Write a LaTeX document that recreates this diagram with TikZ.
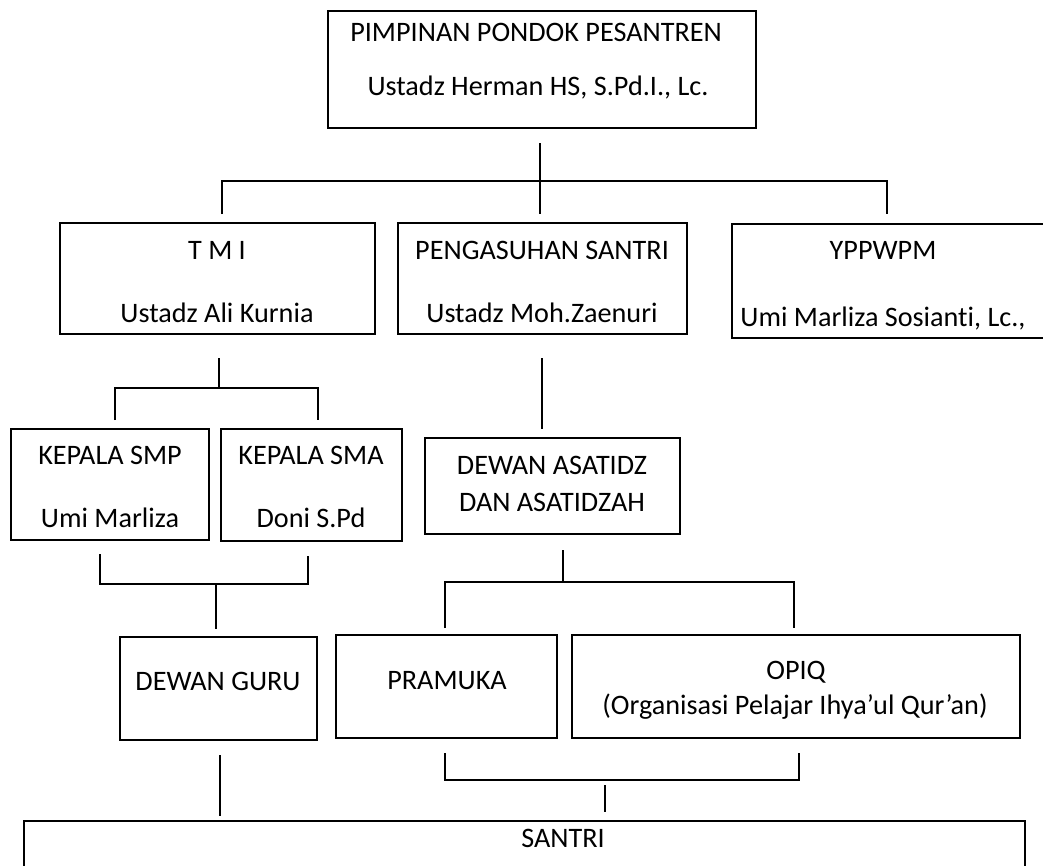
\documentclass[tikz,border=0pt]{standalone}
\usepackage{fontspec}
\setmainfont{Carlito}[Ligatures=NoCommon]

\begin{document}
\begin{tikzpicture}[x=1pt,y=-1pt,line width=1.2pt,
  kotak/.style={draw,line width=1.1pt,inner sep=0pt},
  teks/.style={inner sep=0pt,yshift=-4pt,text height=0.64em,text depth=0pt,font=\fontsize{28.2}{33}\selectfont}]
  \useasboundingbox (0,0) rectangle (1043,865);
  % kotak-kotak
  \node[kotak,minimum width=428pt,minimum height=117pt] (pimpinan) at (542,69.5){};
  \node[kotak,minimum width=315pt,minimum height=111pt] (tmi) at (217.5,278.5){};
  \node[kotak,minimum width=289pt,minimum height=111pt] (asuh) at (542.5,278.5){};
  \node[kotak,minimum width=328pt,minimum height=114pt] (yppwpm) at (896,281){};
  \node[kotak,minimum width=198pt,minimum height=111pt] (smp) at (110,484.5){};
  \node[kotak,minimum width=181pt,minimum height=112pt] (sma) at (311.5,485){};
  \node[kotak,minimum width=255pt,minimum height=96pt] (asatidz) at (552.5,486){};
  \node[kotak,minimum width=197pt,minimum height=103pt] (guru) at (218.5,688.5){};
  \node[kotak,minimum width=221pt,minimum height=103pt] (pramuka) at (446.5,686.5){};
  \node[kotak,minimum width=448pt,minimum height=103pt] (opiq) at (796,686.5){};
  \node[kotak,minimum width=1001pt,minimum height=100pt] (santri) at (524.5,871){};
  % isi teks
  \node[teks] (tpimpinan) at (536,34){PIMPINAN PONDOK PESANTREN};
  \node[teks] (npimpinan) at (538,88){Ustadz Herman HS, S.Pd.I., Lc.};
  \node[teks] (ttmi) at (217,252){T M I};
  \node[teks] (ntmi) at (217,315){Ustadz Ali Kurnia};
  \node[teks] (tasuh) at (542,252){PENGASUHAN SANTRI};
  \node[teks] (nasuh) at (542,315){Ustadz Moh.Zaenuri};
  \node[teks] (typpwpm) at (883,252){YPPWPM};
  \node[teks] (nyppwpm) at (883,319){Umi Marliza Sosianti, Lc.,};
  \node[teks] (tsmp) at (110,457){KEPALA SMP};
  \node[teks] (nsmp) at (110,520){Umi Marliza};
  \node[teks] (tsma) at (311,457){KEPALA SMA};
  \node[teks] (nsma) at (311,520){Doni S.Pd};
  \node[teks] (tasatidz) at (552,467){DEWAN ASATIDZ};
  \node[teks] (nasatidz) at (552,504){DAN ASATIDZAH};
  \node[teks] (tguru) at (218,683){DEWAN GURU};
  \node[teks] (tpramuka) at (447,682){PRAMUKA};
  \node[teks] (topiq) at (796,672){OPIQ};
  \node[teks] (nopiq) at (795,707){(Organisasi Pelajar Ihya’ul Qur’an)};
  \node[teks] (tsantri) at (563,840){SANTRI};
  % titik-titik garis
  \coordinate (a0) at (540,143); \coordinate (a1) at (540,214);
  \coordinate (a2) at (222,181); \coordinate (a3) at (887,181);
  \coordinate (a4) at (222,214); \coordinate (a5) at (887,214);
  \coordinate (b0) at (219,358); \coordinate (b1) at (219,388);
  \coordinate (b2) at (115,388); \coordinate (b3) at (318,388);
  \coordinate (b4) at (115,420); \coordinate (b5) at (318,420);
  \coordinate (c0) at (542,358); \coordinate (c1) at (542,429);
  \coordinate (d0) at (100,554); \coordinate (d1) at (100,584);
  \coordinate (d2) at (308,584); \coordinate (d3) at (308,556);
  \coordinate (d4) at (216,584); \coordinate (d5) at (216,629);
  \coordinate (e0) at (563,550); \coordinate (e1) at (563,582);
  \coordinate (e2) at (445,582); \coordinate (e3) at (794,582);
  \coordinate (e4) at (445,628); \coordinate (e5) at (794,628);
  \coordinate (f0) at (220,755); \coordinate (f1) at (220,816);
  \coordinate (g0) at (445,753); \coordinate (g1) at (445,780);
  \coordinate (g2) at (799,780); \coordinate (g3) at (799,753);
  \coordinate (g4) at (605,785); \coordinate (g5) at (605,812);
  % garis penghubung
  \draw (a0) -- (a1);
  \draw (a4) -- (a2) -- (a3) -- (a5);
  \draw (b0) -- (b1);
  \draw (b4) -- (b2) -- (b3) -- (b5);
  \draw (c0) -- (c1);
  \draw (d0) -- (d1) -- (d2) -- (d3);
  \draw (d4) -- (d5);
  \draw (e0) -- (e1);
  \draw (e4) -- (e2) -- (e3) -- (e5);
  \draw (f0) -- (f1);
  \draw (g0) -- (g1) -- (g2) -- (g3);
  \draw (g4) -- (g5);
\end{tikzpicture}
\end{document}
